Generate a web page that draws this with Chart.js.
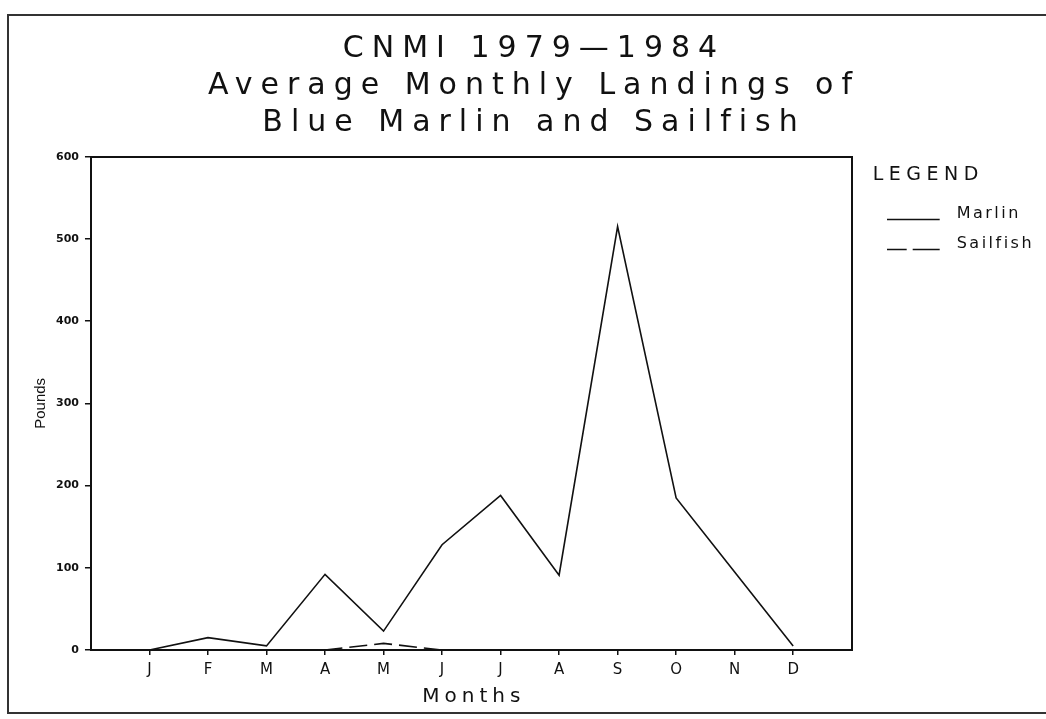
<!DOCTYPE html>
<html>
<head>
<meta charset="utf-8">
<script src="https://cdn.jsdelivr.net/npm/chart.js@4/dist/chart.umd.min.js"></script>
<style>
  body { margin: 0; background: #fff; }
  #wrap { position: relative; width: 1046px; height: 719px; overflow: hidden; }
  #frame { position: absolute; left: 7px; top: 14px; width: 1100px; height: 696px; border: 2px solid #333; }
  #myChart { position: absolute; left: 0; top: 0; }
</style>
</head>
<body>
<div id="wrap">
  <div id="frame"></div>
  <canvas id="myChart" width="1046" height="719"></canvas>
</div>
<script>
const titleLines = ["CNMI 1979\u20141984", "Average Monthly Landings of", "Blue Marlin and Sailfish"];
const months = ["J", "F", "M", "A", "M", "J", "J", "A", "S", "O", "N", "D"];
const marlin = [0, 15, 5, 92, 23, 128, 188, 91, 515, 185, 95, 5];
const sailfish = [0, 0, 0, 0, 8, 0, 0, 0, 0, 0, 0, 0];
const yTickValues = [0, 100, 200, 300, 400, 500, 600];

const ink = "#111";
const face = "'DejaVu Sans', sans-serif";

// the plotter font of the original is very wide, fake it with letter spacing per font size
const letterGaps = { 30: 8, 20: 5, 19: 5.5, 16: 2.5 };

function gapFor(font) {
  const m = /(\d+(?:\.\d+)?)px/.exec(font);
  return m ? letterGaps[parseFloat(m[1])] || 0 : 0;
}

const spacing = {
  id: "spacing",
  beforeInit(chart) {
    const ctx = chart.ctx;
    const fill = ctx.fillText;
    const measure = ctx.measureText;
    ctx.fillText = function (text, x, y, w) {
      const gap = gapFor(this.font);
      this.letterSpacing = gap + "px";
      if (gap && this.textAlign === "center") x += gap / 2;
      return w === undefined ? fill.call(this, text, x, y) : fill.call(this, text, x, y, w);
    };
    ctx.measureText = function (text) {
      this.letterSpacing = gapFor(this.font) + "px";
      return measure.call(this, text);
    };
  },
};

function legendMark(dash) {
  const c = document.createElement("canvas");
  c.width = 62;
  c.height = 20;
  const g = c.getContext("2d");
  g.strokeStyle = ink;
  g.lineWidth = 1.6;
  g.setLineDash(dash);
  g.beginPath();
  g.moveTo(0, 15.5);
  g.lineTo(53, 15.5);
  g.stroke();
  return c;
}

const toPoints = (values) => values.map((v, i) => ({ x: i + 1, y: v }));

const ctx = document.getElementById("myChart");
const myChart = new Chart(ctx, {
  type: "line",
  data: {
    datasets: [
      {
        label: "Marlin",
        data: toPoints(marlin),
        borderColor: ink,
        borderWidth: 1.6,
        pointRadius: 0,
        pointStyle: legendMark([]),
        tension: 0,
      },
      {
        label: "Sailfish",
        data: toPoints(sailfish),
        borderColor: ink,
        borderWidth: 1.6,
        borderDash: [18, 7],
        pointRadius: 0,
        pointStyle: legendMark([20, 6, 27, 6]),
        tension: 0,
      },
    ],
  },
  options: {
    responsive: false,
    animation: false,
    layout: { padding: { left: 16, right: 2, top: 0, bottom: 8 } },
    plugins: {
      tooltip: { enabled: false },
      title: {
        display: true,
        text: titleLines,
        color: ink,
        font: { family: face, size: 30, weight: "normal", lineHeight: 1.23 },
        padding: { top: 31, bottom: 15 },
      },
      legend: {
        position: "right",
        align: "start",
        fullSize: false,
        title: {
          display: true,
          text: "LEGEND",
          position: "start",
          color: ink,
          font: { family: face, size: 19 },
          padding: { top: 8.5, bottom: 4 },
        },
        labels: {
          usePointStyle: true,
          pointStyleWidth: 62,
          padding: 14,
          color: ink,
          font: { family: face, size: 16 },
        },
      },
    },
    scales: {
      x: {
        type: "linear",
        min: 0,
        max: months.length + 1,
        afterBuildTicks: (scale) => {
          scale.ticks = months.map((m, i) => ({ value: i + 1 }));
        },
        ticks: {
          autoSkip: false,
          maxRotation: 0,
          padding: 6,
          color: ink,
          font: { family: face, size: 15 },
          callback: (value) => months[value - 1] || "",
        },
        grid: { drawOnChartArea: false, color: ink, lineWidth: 1.5, tickLength: 5 },
        border: { color: ink, width: 2 },
        title: {
          display: true,
          text: "Months",
          color: ink,
          font: { family: face, size: 20 },
          padding: { top: 0, bottom: 2 },
        },
      },
      x2: {
        type: "linear",
        position: "top",
        min: 0,
        max: months.length + 1,
        ticks: { display: false },
        grid: { display: false, drawTicks: false },
        border: { color: ink, width: 2 },
      },
      y: {
        min: 0,
        max: 600,
        afterBuildTicks: (scale) => {
          scale.ticks = yTickValues.map((v) => ({ value: v }));
        },
        ticks: {
          padding: 6,
          color: ink,
          font: { family: face, size: 11, weight: "bold" },
        },
        grid: { drawOnChartArea: false, color: ink, lineWidth: 1.5, tickLength: 6 },
        border: { color: ink, width: 2 },
        title: {
          display: true,
          text: "Pounds",
          color: ink,
          font: { family: "'Liberation Sans Narrow', 'Liberation Sans', sans-serif", size: 15 },
          padding: { top: 16, bottom: 0 },
        },
      },
      y2: {
        position: "right",
        min: 0,
        max: 600,
        ticks: { display: false },
        grid: { display: false, drawTicks: true, tickLength: 21 },
        border: { color: ink, width: 2 },
      },
    },
  },
  plugins: [spacing],
});
</script>
</body>
</html>
